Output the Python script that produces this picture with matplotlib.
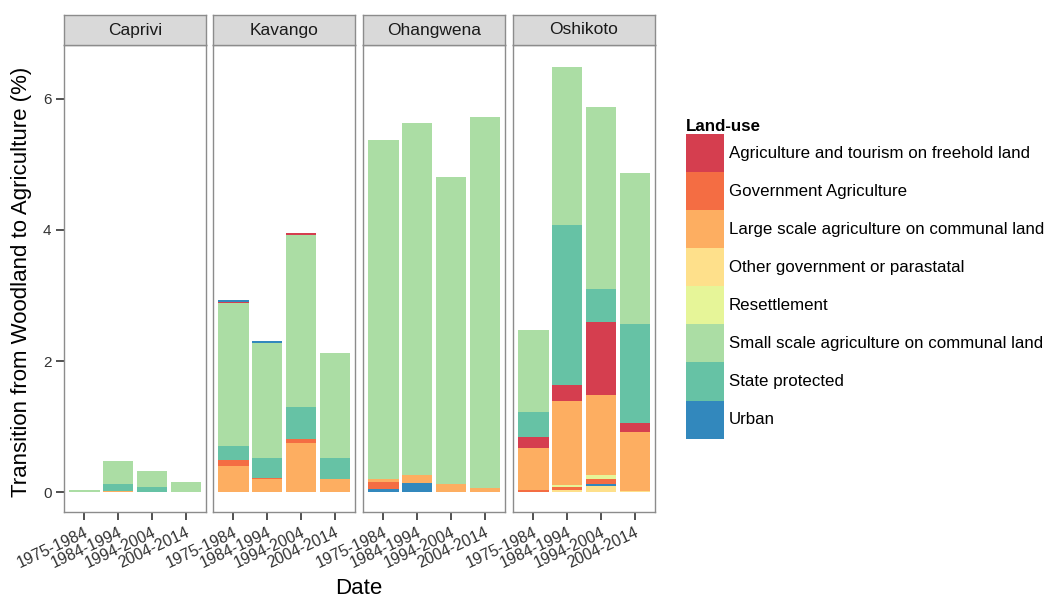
import matplotlib
matplotlib.use('Agg')
import matplotlib.pyplot as plt
import matplotlib.transforms as mtransforms
from matplotlib.patches import Patch
import numpy as np

plt.rcParams['font.family'] = ['Liberation Sans', 'DejaVu Sans']

# Periods and districts (facets)
periods = ['1975-1984', '1984-1994', '1994-2004', '2004-2014']
districts = ['Caprivi', 'Kavango', 'Ohangwena', 'Oshikoto']

land_uses = ['Agriculture and tourism on freehold land',
             'Government Agriculture',
             'Large scale agriculture on communal land',
             'Other government or parastatal',
             'Resettlement',
             'Small scale agriculture on communal land',
             'State protected',
             'Urban']

# Spectral palette, one colour per land-use
colours = ['#D53E4F', '#F46D43', '#FDAE61', '#FEE08B',
           '#E6F598', '#ABDDA4', '#66C2A5', '#3288BD']

AGRI, GOV, LARGE, OTHER, RESET, SMALL, STATE, URBAN = land_uses

# Transition (%) per land-use and period, for each district
# (segments are stacked bottom-up in the order listed)
caprivi = {
    LARGE: [0.0, 0.015, 0.0, 0.0],
    STATE: [0.0, 0.115, 0.08, 0.0],
    SMALL: [0.04, 0.35, 0.24, 0.15],
}
kavango = {
    LARGE: [0.40, 0.20, 0.75, 0.20],
    GOV:   [0.10, 0.02, 0.07, 0.0],
    STATE: [0.20, 0.31, 0.48, 0.32],
    SMALL: [2.19, 1.74, 2.63, 1.60],
    AGRI:  [0.015, 0.0, 0.025, 0.0],
    URBAN: [0.02, 0.04, 0.0, 0.0],
}
ohangwena = {
    URBAN: [0.05, 0.14, 0.0, 0.0],
    GOV:   [0.11, 0.0, 0.0, 0.0],
    LARGE: [0.05, 0.13, 0.12, 0.07],
    SMALL: [5.16, 5.36, 4.68, 5.65],
}
oshikoto = {
    OTHER: [0.0, 0.03, 0.09, 0.02],
    URBAN: [0.0, 0.0, 0.04, 0.0],
    GOV:   [0.04, 0.05, 0.08, 0.0],
    RESET: [0.0, 0.03, 0.06, 0.0],
    LARGE: [0.64, 1.28, 1.22, 0.90],
    AGRI:  [0.16, 0.24, 1.11, 0.13],
    STATE: [0.39, 2.45, 0.50, 1.52],
    SMALL: [1.25, 2.40, 2.78, 2.30],
}
data = [caprivi, kavango, ohangwena, oshikoto]

colour_of = dict(zip(land_uses, colours))

fig = plt.figure(figsize=(10.48, 6), dpi=100)
W, H = 1048.0, 600.0
panel_left = [64, 213, 363, 513]
panel_w = 142
panel_top, panel_bot = 45, 512
strip_top = 15

# shift for the rotated x tick labels
label_shift = mtransforms.ScaledTranslation(4 / 100, -6 / 100, fig.dpi_scale_trans)

x = np.arange(1, len(periods) + 1)
for i, (district, values) in enumerate(zip(districts, data)):
    ax = fig.add_axes([panel_left[i] / W, 1 - panel_bot / H,
                       panel_w / W, (panel_bot - panel_top) / H])
    bottom = np.zeros(len(periods))
    for lu, vals in values.items():
        vals = np.array(vals)
        ax.bar(x, vals, width=0.9, bottom=bottom, color=colour_of[lu],
               linewidth=0)
        bottom += vals
    ax.set_xlim(0.4, 4.6)
    ax.set_ylim(-0.3, 6.82)
    ax.set_xticks(x)
    ax.set_xticklabels(periods, rotation=25, ha='right',
                       rotation_mode='anchor', fontsize=11.5, color='#333333')
    for lab in ax.get_xticklabels():
        lab.set_transform(lab.get_transform() + label_shift)
    ax.set_yticks([0, 2, 4, 6])
    ax.tick_params(axis='both', length=5.5, color='#333333', width=1.2)
    ax.tick_params(axis='y', labelsize=11, labelcolor='#333333')
    if i > 0:
        ax.tick_params(axis='y', left=False, labelleft=False)
    for sp in ax.spines.values():
        sp.set_color('#8C8C8C')
        sp.set_linewidth(1)

    # facet strip
    sax = fig.add_axes([panel_left[i] / W, 1 - panel_top / H,
                        panel_w / W, (panel_top - strip_top) / H])
    sax.set_facecolor('#D9D9D9')
    sax.set_xticks([])
    sax.set_yticks([])
    for sp in sax.spines.values():
        sp.set_color('#8C8C8C')
        sp.set_linewidth(1)
    sax.text(0.5, 0.5, district, ha='center', va='center', fontsize=12.5,
             color='#1A1A1A', transform=sax.transAxes)

fig.text(22 / W, 1 - 282 / H, 'Transition from Woodland to Agriculture (%)',
         rotation=90, ha='center', va='center', fontsize=16)
fig.text(359 / W, 1 - 588 / H, 'Date', ha='center', va='center', fontsize=16)

handles = [Patch(facecolor=c, edgecolor='none') for c in colours]
leg = fig.legend(handles, land_uses, loc='upper left',
                 bbox_to_anchor=(686 / W, 1 - 119 / H), frameon=False,
                 borderpad=0, borderaxespad=0,
                 title='Land-use', fontsize=12.2, handlelength=2.24,
                 handleheight=3.08, labelspacing=0, handletextpad=0.3,
                 alignment='left')
leg.get_title().set_fontweight('bold')
leg.get_title().set_fontsize(12.2)

plt.savefig('out.png', dpi=100)
